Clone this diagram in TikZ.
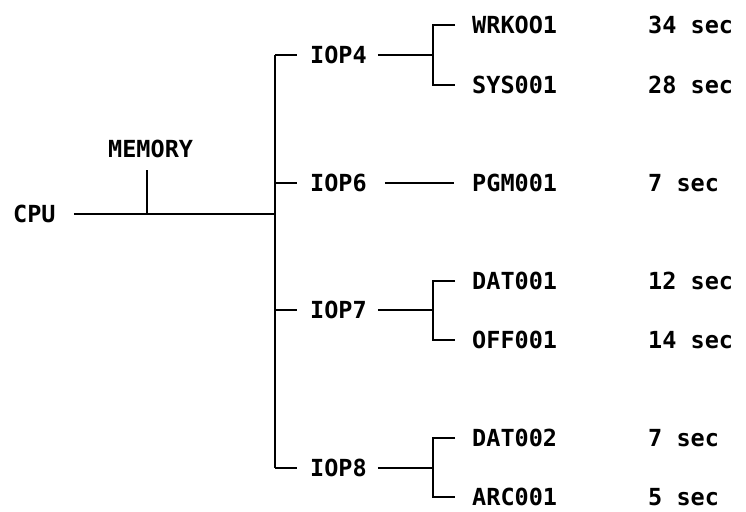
\documentclass[tikz,border=0pt]{standalone}
\usepackage{fontspec}
\setmonofont{DejaVu Sans Mono}
\tikzset{
  lbl/.style={anchor=west,inner sep=0pt,font=\ttfamily\bfseries\fontsize{23.5}{24}\selectfont,text height=17.5pt,text depth=0pt},
  wire/.style={line width=2pt,line cap=butt}
}
\begin{document}
\begin{tikzpicture}[x=1pt,y=-1pt]
\useasboundingbox (0,0) rectangle (746,511);
% left part
\node[lbl] (cpu) at (13,214) {CPU};
\node[lbl] (mem) at (108,149) {MEMORY};
\coordinate (mt) at (147,170);
\coordinate (mb) at (147,214);
\coordinate (bc) at (275,214);
\coordinate (b4) at (275,55);
\coordinate (b6) at (275,183);
\coordinate (b7) at (275,310);
\coordinate (b8) at (275,468);
\draw[wire] ([xshift=18pt]cpu.east) -- (bc);
\draw[wire] (mt) -- (mb);
\draw[wire] (b4) -- (b8);
% IOP nodes
\node[lbl] (iop4) at (310,55) {IOP4};
\node[lbl] (iop6) at (310,183) {IOP6};
\node[lbl] (iop7) at (310,310) {IOP7};
\node[lbl] (iop8) at (310,468) {IOP8};
\draw[wire] (b4) -- ++(22,0);
\draw[wire] (b6) -- ++(22,0);
\draw[wire] (b7) -- ++(22,0);
\draw[wire] (b8) -- ++(22,0);
% junctions
\coordinate (j4) at (433,55);
\coordinate (j7) at (433,310);
\coordinate (j8) at (433,468);
\draw[wire] ([xshift=11pt]iop4.east) -- (j4);
\draw[wire] ([xshift=11pt]iop7.east) -- (j7);
\draw[wire] ([xshift=11pt]iop8.east) -- (j8);
% children
\node[lbl] (wrk) at (472,25) {WRKOO1};
\node[lbl] (sys) at (472,85) {SYS001};
\node[lbl] (pgm) at (472,183) {PGM001};
\node[lbl] (dat1) at (472,281) {DAT001};
\node[lbl] (off) at (472,340) {OFF001};
\node[lbl] (dat2) at (472,438) {DAT002};
\node[lbl] (arc) at (472,497) {ARC001};
\draw[wire] ([xshift=-17pt]wrk.west) -| (433,25) |- ([xshift=-17pt]sys.west);
\draw[wire] ([xshift=-17pt]dat1.west) -| (433,281) |- ([xshift=-17pt]off.west);
\draw[wire] ([xshift=-17pt]dat2.west) -| (433,438) |- ([xshift=-17pt]arc.west);
\draw[wire] ([xshift=18pt]iop6.east) -- ([xshift=-18pt]pgm.west);
% times
\node[lbl] (t1) at (648,25) {34 sec};
\node[lbl] (t2) at (648,85) {28 sec};
\node[lbl] (t3) at (648,183) {7 sec};
\node[lbl] (t4) at (648,281) {12 sec};
\node[lbl] (t5) at (648,340) {14 sec};
\node[lbl] (t6) at (648,438) {7 sec};
\node[lbl] (t7) at (648,497) {5 sec};
\end{tikzpicture}
\end{document}
